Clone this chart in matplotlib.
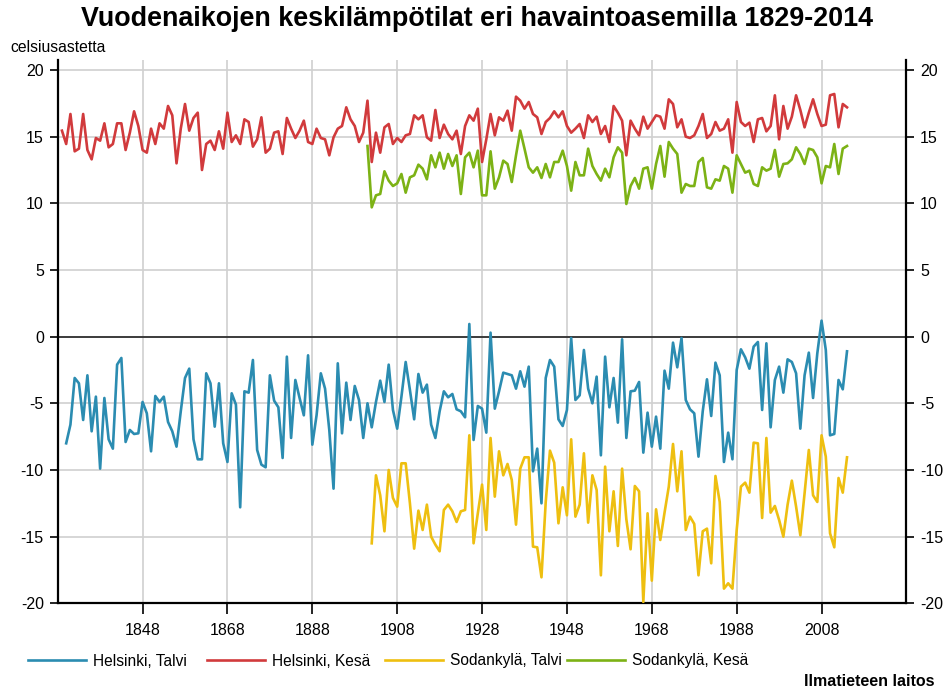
import numpy as np
import matplotlib
matplotlib.use("Agg")
import matplotlib.pyplot as plt
from matplotlib.ticker import FixedLocator

plt.rcParams['font.family'] = ['Liberation Sans', 'DejaVu Sans']
plt.rcParams['axes.unicode_minus'] = False

# ---- data ----
hki_kesa_start = 1829
hki_kesa = [15.45, 14.45, 16.7, 13.9, 14.1, 16.7, 14.0, 13.3, 14.9, 14.7,
            16.0, 14.2, 14.45, 16.0, 16.0, 14.0, 15.3, 16.9, 15.8, 14.0,
            13.8, 15.6, 14.45, 16.0, 15.6, 17.3, 16.6, 13.0, 15.6, 17.45,
            15.45, 16.4, 16.8, 12.5, 14.45, 14.7, 14.0, 15.4, 14.1, 16.8,
            14.6, 15.1, 14.45, 16.3, 16.1, 14.25, 14.8, 16.45, 13.8, 14.1,
            15.3, 15.4, 13.7, 16.4, 15.6, 14.9, 15.45, 16.2, 14.6, 14.45,
            15.6, 14.9, 14.8, 13.6, 14.95, 15.6, 15.8, 17.2, 16.3, 15.8,
            14.6, 15.3, 17.7, 13.1, 15.3, 13.8, 15.7, 15.95, 14.45, 14.9,
            14.6, 15.1, 15.2, 16.6, 16.3, 16.6, 14.95, 14.7, 17.0, 14.9,
            15.9, 15.2, 14.8, 15.45, 13.7, 15.8, 16.6, 16.2, 17.1, 13.1,
            14.8, 16.7, 15.1, 16.45, 16.2, 16.95, 15.45, 18.0, 17.7, 17.1,
            17.6, 16.7, 16.45, 15.2, 16.1, 16.4, 16.9, 16.45, 16.9, 15.8,
            15.3, 15.6, 15.95, 14.9, 16.6, 16.1, 16.5, 15.2, 15.8, 14.6,
            17.3, 16.8, 16.2, 13.6, 16.2, 15.6, 15.1, 16.5, 15.6, 16.1,
            16.6, 16.5, 15.6, 17.8, 17.45, 15.7, 16.3, 15.0, 14.9, 15.1,
            15.8, 16.7, 14.9, 15.2, 16.1, 15.45, 15.6, 16.3, 13.8, 17.6,
            16.1, 15.8, 16.05, 14.6, 16.3, 16.4, 15.4, 15.8, 18.1, 14.8,
            17.3, 15.6, 16.5, 18.1, 17.0, 15.7, 16.8, 17.8, 16.7, 15.8,
            15.9, 18.1, 18.2, 15.7, 17.45, 17.2]

hki_talvi_start = 1830
hki_talvi = [-8.0, -6.6, -3.1, -3.5, -6.25, -2.9, -7.1, -4.5, -9.9, -4.6,
             -7.7, -8.4, -2.1, -1.6, -7.9, -7.0, -7.3, -7.25, -4.9, -5.75,
             -8.6, -4.45, -4.9, -4.5, -6.4, -7.1, -8.25, -5.6, -3.1, -2.4,
             -7.7, -9.2, -9.2, -2.75, -3.5, -6.75, -3.5, -8.0, -9.4, -4.25,
             -5.1, -12.8, -4.1, -4.2, -1.75, -8.5, -9.6, -9.8, -2.9, -4.8,
             -5.3, -9.1, -1.5, -7.6, -3.25, -4.6, -5.9, -1.4, -8.1, -5.9,
             -2.75, -3.9, -7.0, -11.4, -2.0, -7.25, -3.45, -6.25, -3.7, -4.75,
             -7.6, -5.0, -6.8, -4.9, -3.3, -4.9, -2.1, -5.5, -6.9, -4.5,
             -1.9, -4.0, -6.2, -2.8, -4.2, -3.6, -6.6, -7.6, -5.6, -4.1,
             -4.55, -4.3, -5.45, -5.6, -6.05, 0.95, -7.75, -5.2, -5.4, -7.2,
             0.3, -5.4, -4.1, -2.7, -2.8, -2.9, -3.9, -2.6, -3.75, -2.25,
             -10.1, -8.4, -12.5, -3.1, -1.75, -2.25, -6.2, -6.7, -5.5, -0.1,
             -4.75, -4.4, -1.0, -3.9, -5.0, -3.0, -8.9, -1.5, -5.3, -3.1,
             -6.45, -0.2, -7.6, -4.1, -4.05, -3.4, -8.7, -5.7, -8.25, -6.0,
             -8.4, -2.55, -3.9, -0.45, -2.3, -0.1, -4.75, -5.45, -5.75, -9.0,
             -5.6, -3.2, -5.95, -1.95, -2.9, -9.4, -7.2, -9.2, -2.5, -0.95,
             -1.55, -2.4, -0.75, -0.4, -5.5, -0.5, -6.8, -3.25, -2.25, -4.2,
             -1.7, -1.9, -2.75, -6.9, -2.9, -1.2, -4.6, -1.25, 1.2, -1.0,
             -7.4, -7.3, -3.25, -3.95, -1.1]

sod_kesa_start = 1901
sod_kesa = [14.3, 9.7, 10.6, 10.7, 12.4, 11.7, 11.3, 11.5, 12.2, 10.8,
            11.95, 12.1, 12.9, 12.6, 11.8, 13.6, 12.7, 13.8, 12.6, 13.7,
            12.8, 13.6, 10.7, 13.45, 13.8, 12.7, 13.95, 10.6, 10.6, 13.9,
            11.1, 11.95, 13.2, 12.95, 11.6, 13.6, 15.45, 14.1, 12.7, 12.3,
            12.7, 11.9, 12.95, 11.95, 13.1, 13.1, 13.95, 12.8, 10.95, 13.1,
            12.1, 12.1, 14.1, 12.8, 12.2, 11.7, 12.6, 11.95, 13.45, 14.2,
            13.8, 9.95, 11.3, 11.9, 11.1, 12.6, 12.7, 11.1, 12.95, 14.3,
            12.0, 14.6, 14.1, 13.7, 10.8, 11.45, 11.3, 11.3, 13.1, 13.4,
            11.2, 11.1, 11.8, 11.7, 12.8, 12.6, 10.8, 13.6, 12.95, 12.3,
            12.45, 11.45, 11.3, 12.7, 12.45, 12.6, 14.0, 12.0, 12.95, 13.0,
            13.3, 14.2, 13.7, 12.95, 14.1, 14.0, 13.45, 11.5, 12.8, 12.7,
            14.45, 12.2, 14.1, 14.3]

sod_talvi_start = 1902
sod_talvi = [-15.5, -10.4, -11.9, -14.6, -10.0, -12.1, -12.75, -9.5, -9.5, -12.5,
             -15.9, -13.05, -14.5, -12.6, -15.0, -15.6, -16.1, -13.0, -12.6, -13.1,
             -13.9, -13.1, -13.0, -7.4, -15.5, -13.25, -11.1, -14.5, -7.6, -12.0,
             -8.6, -10.4, -9.55, -10.75, -14.1, -9.9, -9.05, -9.05, -15.75, -15.8,
             -18.05, -12.4, -8.55, -9.45, -14.0, -11.3, -13.4, -7.7, -13.5, -12.6,
             -8.75, -13.95, -10.4, -11.5, -17.9, -9.75, -14.6, -11.6, -15.7, -9.9,
             -13.7, -15.95, -11.2, -11.6, -19.9, -13.25, -18.3, -12.95, -15.25, -13.2,
             -11.25, -8.05, -11.6, -8.6, -14.5, -13.5, -14.05, -17.9, -14.6, -14.4,
             -17.0, -10.45, -12.4, -18.9, -18.5, -18.9, -14.5, -11.25, -10.95, -11.7,
             -7.95, -8.0, -13.6, -7.6, -13.2, -12.7, -13.75, -15.0, -12.6, -10.8,
             -12.75, -14.9, -11.75, -8.5, -11.9, -12.4, -7.4, -9.0, -14.75, -15.8,
             -10.6, -11.7, -9.05]

x_ticks = [1848, 1868, 1888, 1908, 1928, 1948, 1968, 1988, 2008]
y_ticks = [-20, -15, -10, -5, 0, 5, 10, 15, 20]

series = [
    ("Helsinki, Talvi", hki_talvi_start, hki_talvi, "#2b8cb1"),
    ("Helsinki, Kesä", hki_kesa_start, hki_kesa, "#d13a3c"),
    ("Sodankylä, Talvi", sod_talvi_start, sod_talvi, "#eebf10"),
    ("Sodankylä, Kesä", sod_kesa_start, sod_kesa, "#7cb215"),
]

W, H = 944, 691
fig = plt.figure(figsize=(W / 100, H / 100), dpi=100)
left, right, top, bottom = 57.7, 906, 60, 603.3
ax = fig.add_axes([left / W, 1 - bottom / H, (right - left) / W, (bottom - top) / H])

lines = []
for label, start, vals, col in series:
    yrs = start + np.arange(len(vals))
    ln, = ax.plot(yrs, vals, color=col, lw=1.9, label=label, zorder=3)
    lines.append(ln)

ax.set_xlim(1828, 2027.9)
ax.set_ylim(-20, 20.75)
ax.axhline(0, color='#222222', lw=1.2, zorder=2)

ax.xaxis.set_major_locator(FixedLocator(x_ticks))
ax.yaxis.set_major_locator(FixedLocator(y_ticks))
ax.grid(True, color='#d0d0d0', lw=1.2, zorder=0)

ax.spines['top'].set_visible(False)
for s in ['left', 'right', 'bottom']:
    ax.spines[s].set_color('black')
    ax.spines[s].set_linewidth(1.6)

ax.tick_params(axis='y', which='both', left=True, right=True, labelleft=True, labelright=True,
               direction='out', length=6, width=1.2, labelsize=11.5, colors='black', pad=4)
ax.tick_params(axis='x', direction='out', length=8, width=1.2, labelsize=11.5, pad=6)

fig.text(0.505, 1 - 19 / H, "Vuodenaikojen keskilämpötilat eri havaintoasemilla 1829-2014",
         ha='center', va='center', fontsize=19.4, fontweight='bold')
fig.text(10 / W, 1 - 47 / H, "celsiusastetta", ha='left', va='center', fontsize=11.3)
fig.text(935 / W, 1 - 682 / H, "Ilmatieteen laitos", ha='right', va='center',
         fontsize=11.5, fontweight='bold')

legend_x = [28, 207, 385, 567]
for ln, lx in zip(lines, legend_x):
    lg = fig.legend([ln], [ln.get_label()], loc='center left',
                    bbox_to_anchor=(lx / W, 1 - 661 / H), frameon=False,
                    fontsize=11.2, handlelength=3.7, handletextpad=0.45,
                    borderpad=0, borderaxespad=0)

fig.savefig("out.png", dpi=100)
